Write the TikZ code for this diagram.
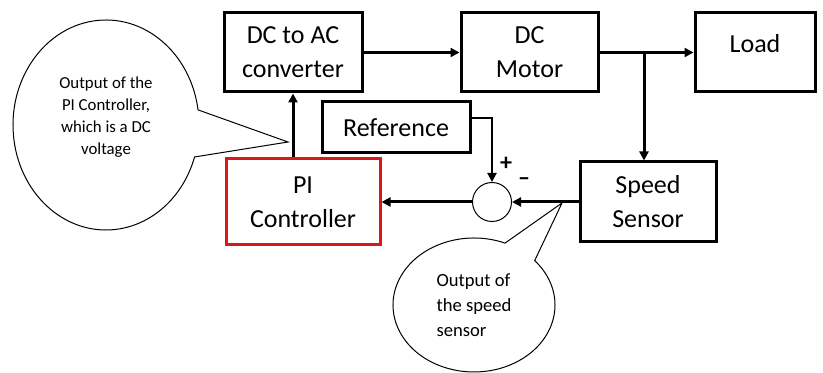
\documentclass[tikz,border=0pt]{standalone}
\usepackage{fontspec}
\setmainfont{Carlito}
\usepackage{tikz}
\usetikzlibrary{arrows.meta, shapes.geometric, shapes.callouts}

\definecolor{pired}{RGB}{218,24,24}

\begin{document}
\begin{tikzpicture}[x=0.5pt, y=-0.5pt, >={Triangle[length=4.5pt, width=4.5pt]},
    block/.style={draw, line width=1.5pt, align=center, inner sep=0pt, font=\fontsize{13}{17}\selectfont},
    link/.style={->, line width=1.5pt},
    bubble/.style={draw, line width=0.5pt, ellipse callout, callout pointer arc=26, inner sep=0pt}]

    % 1. Canvas
    \useasboundingbox (0,0) rectangle (823,373);

    % 2. Forward path
    \node[block, minimum width=69pt, minimum height=39.5pt] (conv) at (293,52.5) {DC to AC\\converter};
    \node[block, minimum width=68.5pt, minimum height=39.5pt] (motor) at (529.5,52.5) {DC\\Motor};
    \node[block, minimum width=60pt, minimum height=39.5pt, text depth=9pt] (load) at (755,52.5) {Load};

    % 3. Feedback path
    \node[block, minimum width=68pt, minimum height=40pt] (sens) at (648,202) {Speed\\Sensor};
    \node[block, minimum width=74pt, minimum height=25.5pt] (ref) at (396,127.5) {Reference};
    \node[draw, circle, line width=0.5pt, minimum size=19.5pt, inner sep=0pt] (sum) at (492,202) {};
    \node[block, draw=pired, minimum width=77pt, minimum height=43pt] (pi) at (303,202) {PI\\Controller};

    % 4. Signs at the summing point
    \node[font=\bfseries\fontsize{12}{12}\selectfont, inner sep=0pt] (plus) at (506,164) {+};
    \node[font=\bfseries\fontsize{12}{12}\selectfont, inner sep=0pt] (minus) at (524,182) {--};

    % 5. Connectors
    \coordinate (br) at (644,52.5);
    \draw[link] (conv) -- (motor);
    \draw[link] (motor) -- (load);
    \draw[link] (br) -- (br |- sens.north);
    \draw[link] (sens) -- (sum);
    \draw[link] (sum) -- (pi);
    \draw[link] (conv.south |- pi.north) -- (conv.south);
    \draw[->, line width=1pt] ([yshift=4.75pt]ref.east) -| (sum.north);

    % 6. Callouts
    \coordinate (tip1) at (288,142);
    \coordinate (tip2) at (562,203);
    \node[bubble, minimum width=93pt, minimum height=105pt, align=center, text depth=9pt,
          font=\fontsize{8.4}{11}\selectfont, callout absolute pointer=(tip1)] (note1) at (106,125)
        {Output of the\\PI Controller,\\which is a DC\\voltage};
    \node[bubble, minimum width=81pt, minimum height=67pt, align=left,
          font=\fontsize{9.3}{12.5}\selectfont, callout absolute pointer=(tip2)] (note2) at (474,305)
        {Output of\\the speed\\sensor};

\end{tikzpicture}
\end{document}
